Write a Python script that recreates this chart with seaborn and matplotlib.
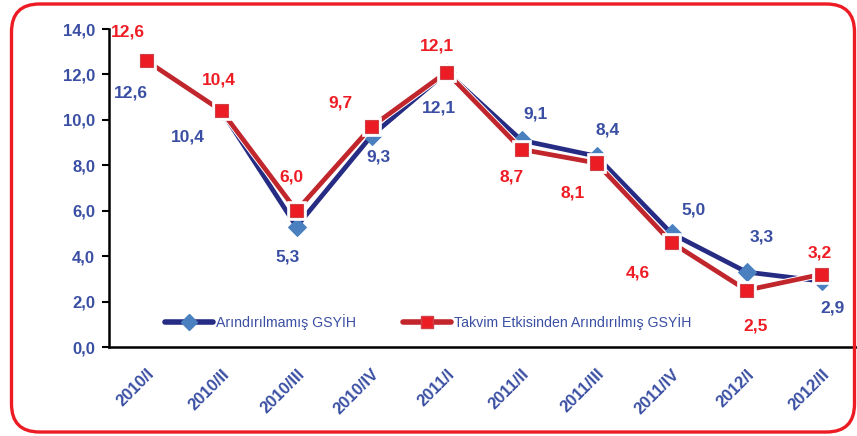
import matplotlib
matplotlib.use("Agg")
import matplotlib.pyplot as plt
import seaborn as sns
import pandas as pd
from matplotlib.patches import FancyBboxPatch
from matplotlib.lines import Line2D
import matplotlib.patheffects as pe

categories = ["2010/I", "2010/II", "2010/III", "2010/IV", "2011/I",
              "2011/II", "2011/III", "2011/IV", "2012/I", "2012/II"]
raw_gdp = [12.6, 10.4, 5.3, 9.3, 12.1, 9.1, 8.4, 5.0, 3.3, 2.9]
cal_adj_gdp = [12.6, 10.4, 6.0, 9.7, 12.1, 8.7, 8.1, 4.6, 2.5, 3.2]
series_names = ["Arındırılmamış GSYİH", "Takvim Etkisinden Arındırılmış GSYİH"]
yticks = [0, 2, 4, 6, 8, 10, 12, 14]

sns.set_theme(style="white")
plt.rcParams['font.family'] = ['Liberation Sans', 'DejaVu Sans']

BLUE_LINE = "#262B84"
BLUE_MARK = "#4A80C0"
BLUE_TXT = "#3A4FA3"
RED_LINE = "#C1262C"
RED_MARK = "#EC1C24"
RED_TXT = "#EE1D25"

fig = plt.figure(figsize=(8.57, 4.36), dpi=100)
ax = fig.add_axes([109/857, 89/436, 750/857, 318/436])

df_raw = pd.DataFrame({"cat": categories, "val": raw_gdp})
df_adj = pd.DataFrame({"cat": categories, "val": cal_adj_gdp})

sns.lineplot(data=df_raw, x="cat", y="val", ax=ax, color=BLUE_LINE, lw=3.4,
             marker="D", markersize=9, markerfacecolor=BLUE_MARK,
             markeredgecolor=BLUE_MARK, sort=False, zorder=3)
sns.lineplot(data=df_adj, x="cat", y="val", ax=ax, color=RED_LINE, lw=3.4,
             marker="s", markersize=9.5, markerfacecolor=RED_MARK,
             markeredgecolor="#D04048", markeredgewidth=0.8, sort=False, zorder=4,
             path_effects=[pe.Stroke(linewidth=4.8, foreground="white"), pe.Normal()])

ax.set_xlim(-0.5, 9.5)
ax.set_ylim(0, 14)
ax.set_yticks(yticks)
ax.set_yticklabels([f"{v:.1f}".replace(".", ",") for v in yticks],
                   color=BLUE_TXT, fontweight="bold", fontsize=12)
ax.set_xticks(range(len(categories)))
ax.set_xticklabels(categories, rotation=45, ha="right", rotation_mode="anchor",
                   color=BLUE_TXT, fontweight="bold", fontsize=12)
ax.set_xticks([i - 0.5 for i in range(len(categories) + 1)], minor=True)
ax.tick_params(axis="x", which="major", length=0, pad=14)
ax.tick_params(axis="x", which="minor", length=5, width=1.5, color="black", direction="out")
ax.tick_params(axis="y", length=5, width=1.5, color="black", direction="out", left=True, pad=5)
ax.set_xlabel("")
ax.set_ylabel("")
for s in ["top", "right"]:
    ax.spines[s].set_visible(False)
for s in ["left", "bottom"]:
    ax.spines[s].set_color("black")
    ax.spines[s].set_linewidth(1.8)
ax.grid(False)

blue_off = [(-16, -32), (-34, -26), (-9, -30), (7, -21), (-8, -36),
            (14, 26), (11, 26), (22, 23), (15, 35), (11, -27)]
red_off = [(-19, 29), (-3, 31), (-5, 34), (-31, 24), (-10, 26),
           (-10, -28), (-24, -30), (-34, -30), (9, -36), (-2, 21)]
for i, (v, off) in enumerate(zip(raw_gdp, blue_off)):
    ax.annotate(f"{v:.1f}".replace(".", ","), (i, v), xytext=off,
                textcoords="offset pixels", ha="center", va="center",
                color=BLUE_TXT, fontweight="bold", fontsize=12.5, annotation_clip=False)
for i, (v, off) in enumerate(zip(cal_adj_gdp, red_off)):
    ax.annotate(f"{v:.1f}".replace(".", ","), (i, v), xytext=off,
                textcoords="offset pixels", ha="center", va="center",
                color=RED_TXT, fontweight="bold", fontsize=12.5, annotation_clip=False)

handles = [
    Line2D([], [], color=BLUE_LINE, lw=4, marker="D", markersize=8,
           markerfacecolor=BLUE_MARK, markeredgecolor=BLUE_MARK),
    Line2D([], [], color=RED_LINE, lw=4, marker="s", markersize=8,
           markerfacecolor=RED_MARK, markeredgecolor="#D04048"),
]
leg = fig.legend(handles, series_names, loc="center left",
                 bbox_to_anchor=(152/857, 1 - 322/436), ncol=2, frameon=False,
                 handlelength=3.4, handletextpad=0.2, columnspacing=3.3,
                 fontsize=10.2)
for t in leg.get_texts():
    t.set_color(BLUE_TXT)

border = FancyBboxPatch((0.115, 0.04), 8.43, 4.28,
                        boxstyle="round,pad=0,rounding_size=0.28",
                        transform=fig.dpi_scale_trans, fill=False,
                        edgecolor="#ED1C24", linewidth=2.4, clip_on=False)
fig.patches.append(border)

fig.savefig("out.png", dpi=100)
